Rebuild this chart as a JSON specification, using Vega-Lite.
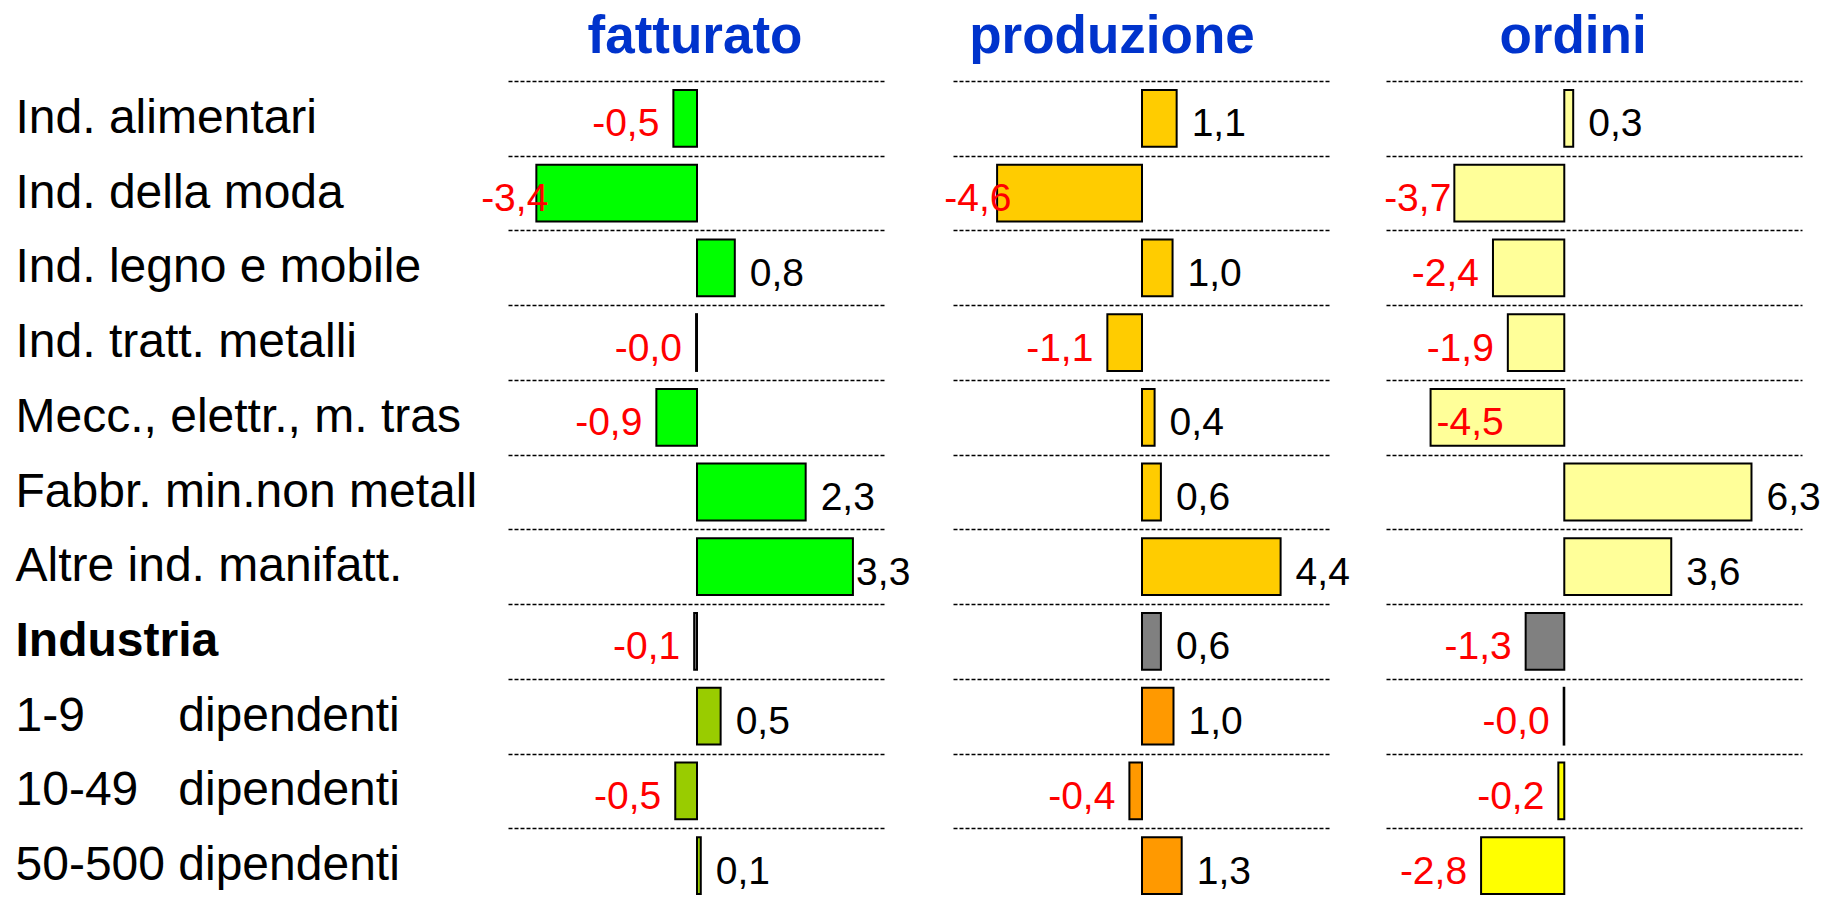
{
  "$schema": "https://vega.github.io/schema/vega-lite/v6.json",
  "padding": {"left": 15, "top": 11, "right": 0, "bottom": 0},
  "background": "white",
  "config": {
    "font": "Liberation Sans",
    "view": {"stroke": null},
    "locale": {"number": {"decimal": ",", "thousands": ".", "grouping": [3], "currency": ["", " €"], "minus": "-"}},
    "style": {"guide-label": {"ellipsis": "\u200b"}},
    "title": {"frame": "group", "baseline": "alphabetic", "offset": 17, "fontSize": 53, "fontWeight": "bold", "color": "#0033CC", "anchor": "middle"}
  },
  "data": {
    "values": [
      {"cat": "Ind. alimentari", "gruppo": "settori", "fatturato": -0.5, "produzione": 1.1, "ordini": 0.3},
      {"cat": "Ind. della moda", "gruppo": "settori", "fatturato": -3.4, "produzione": -4.6, "ordini": -3.7},
      {"cat": "Ind. legno e mobile", "gruppo": "settori", "fatturato": 0.8, "produzione": 0.97, "ordini": -2.4},
      {"cat": "Ind. tratt. metalli", "gruppo": "settori", "fatturato": -0.02, "produzione": -1.1, "ordini": -1.9},
      {"cat": "Mecc., elettr., m. trasp.", "gruppo": "settori", "fatturato": -0.86, "produzione": 0.4, "ordini": -4.5},
      {"cat": "Fabbr. min.non metall.", "gruppo": "settori", "fatturato": 2.3, "produzione": 0.6, "ordini": 6.3},
      {"cat": "Altre ind. manifatt.", "gruppo": "settori", "fatturato": 3.3, "produzione": 4.4, "ordini": 3.6},
      {"cat": "Industria", "gruppo": "totale", "fatturato": -0.06, "produzione": 0.6, "ordini": -1.3},
      {"cat": "1-9\u00a0\u00a0\u00a0\u00a0\u00a0\u00a0\u00a0dipendenti", "gruppo": "dimensione", "fatturato": 0.5, "produzione": 1.0, "ordini": -0.02},
      {"cat": "10-49\u00a0\u00a0\u00a0dipendenti", "gruppo": "dimensione", "fatturato": -0.46, "produzione": -0.4, "ordini": -0.2},
      {"cat": "50-500\u00a0dipendenti", "gruppo": "dimensione", "fatturato": 0.08, "produzione": 1.26, "ordini": -2.8}
    ]
  },
  "bounds": "flush",
  "spacing": 67,
  "resolve": {"scale": {"x": "independent", "color": "independent"}},
  "hconcat": [
    {
      "width": 378,
      "height": 822,
      "title": {"text": "fatturato", "dx": -2},
      "encoding": {
        "y": {
          "field": "cat", "type": "nominal", "sort": null,
          "scale": {"paddingInner": 0, "paddingOuter": 0},
          "axis": {
            "title": null, "domain": false, "ticks": false, "tickSize": 0,
            "labelAlign": "left", "labelBaseline": "middle", "labelPadding": 493,
            "labelFontSize": {"condition": {"test": "datum.label === ''", "value": 0}, "value": 48},
            "labelColor": "black", "labelLimit": 466,
            "labelOverlap": false, "labelBound": false, "labelDy": 1,
            "labelFontWeight": {"condition": {"test": "datum.value === 'Industria'", "value": "bold"}, "value": "normal"},
            "grid": true, "gridColor": "black", "gridDash": [4, 2], "gridWidth": 1.5, "gridOpacity": 1,
            "tickBand": "extent"
          }
        }
      },
      "layer": [
        {
          "mark": {"type": "bar", "height": {"band": 0.76}, "stroke": "black", "strokeWidth": 2},
          "encoding": {
            "x": {"field": "fatturato", "type": "quantitative", "scale": {"domain": [-4, 4], "nice": false}, "axis": null},
            "color": {"field": "gruppo", "type": "nominal", "legend": null,
              "scale": {"domain": ["settori", "totale", "dimensione"], "range": ["#00FF00", "#808080", "#99CC00"]}}
          }
        },
        {
          "transform": [{"filter": "datum.fatturato < 0"}, {"calculate": "max(datum.fatturato, -2.85)", "as": "lx"}],
          "mark": {"type": "text", "fontSize": 39, "align": "right", "baseline": "middle", "dx": -14, "dy": 6, "color": "#FF0000"},
          "encoding": {
            "x": {"field": "lx", "type": "quantitative"},
            "text": {"field": "fatturato", "type": "quantitative", "format": "+.1f"}
          }
        },
        {
          "transform": [{"filter": "datum.fatturato >= 0"}, {"calculate": "min(datum.fatturato, 3.05)", "as": "lx"}],
          "mark": {"type": "text", "fontSize": 39, "align": "left", "baseline": "middle", "dx": 15, "dy": 6, "color": "black"},
          "encoding": {
            "x": {"field": "lx", "type": "quantitative"},
            "text": {"field": "fatturato", "type": "quantitative", "format": ".1f"}
          }
        }
      ]
    },
    {
      "bounds": "flush",
      "spacing": 55,
      "resolve": {"scale": {"x": "independent", "color": "independent"}},
      "hconcat": [
        {
          "width": 378,
          "height": 822,
          "title": {"text": "produzione", "dx": -30},
          "encoding": {
            "y": {
              "field": "cat", "type": "nominal", "sort": null,
              "scale": {"paddingInner": 0, "paddingOuter": 0},
              "axis": {"title": null, "domain": false, "ticks": false, "labels": false,
                "grid": true, "gridColor": "black", "gridDash": [4, 2], "gridWidth": 1.5, "gridOpacity": 1, "tickBand": "extent"}
            }
          },
          "layer": [
            {
              "mark": {"type": "bar", "height": {"band": 0.76}, "stroke": "black", "strokeWidth": 2},
              "encoding": {
                "x": {"field": "produzione", "type": "quantitative", "scale": {"domain": [-6, 6], "nice": false}, "axis": null},
                "color": {"field": "gruppo", "type": "nominal", "legend": null,
                  "scale": {"domain": ["settori", "totale", "dimensione"], "range": ["#FFCC00", "#808080", "#FF9900"]}}
              }
            },
            {
              "transform": [{"filter": "datum.produzione < 0"}, {"calculate": "max(datum.produzione, -3.7)", "as": "lx"}],
              "mark": {"type": "text", "fontSize": 39, "align": "right", "baseline": "middle", "dx": -14, "dy": 6, "color": "#FF0000"},
              "encoding": {
                "x": {"field": "lx", "type": "quantitative"},
                "text": {"field": "produzione", "type": "quantitative", "format": "+.1f"}
              }
            },
            {
              "transform": [{"filter": "datum.produzione >= 0"}],
              "mark": {"type": "text", "fontSize": 39, "align": "left", "baseline": "middle", "dx": 15, "dy": 6, "color": "black"},
              "encoding": {
                "x": {"field": "produzione", "type": "quantitative"},
                "text": {"field": "produzione", "type": "quantitative", "format": ".1f"}
              }
            }
          ]
        },
        {
          "width": 416,
          "height": 822,
          "title": {"text": "ordini", "dx": -21},
          "encoding": {
            "y": {
              "field": "cat", "type": "nominal", "sort": null,
              "scale": {"paddingInner": 0, "paddingOuter": 0},
              "axis": {"title": null, "domain": false, "ticks": false, "labels": false,
                "grid": true, "gridColor": "black", "gridDash": [4, 2], "gridWidth": 1.5, "gridOpacity": 1, "tickBand": "extent"}
            }
          },
          "layer": [
            {
              "mark": {"type": "bar", "height": {"band": 0.76}, "stroke": "black", "strokeWidth": 2},
              "encoding": {
                "x": {"field": "ordini", "type": "quantitative", "scale": {"domain": [-6, 8], "nice": false}, "axis": null},
                "color": {"field": "gruppo", "type": "nominal", "legend": null,
                  "scale": {"domain": ["settori", "totale", "dimensione"], "range": ["#FFFF99", "#808080", "#FFFF00"]}}
              }
            },
            {
              "transform": [{"filter": "datum.ordini < 0 && datum.ordini > -4"}, {"calculate": "max(datum.ordini, -3.33)", "as": "lx"}],
              "mark": {"type": "text", "fontSize": 39, "align": "right", "baseline": "middle", "dx": -14, "dy": 6, "color": "#FF0000"},
              "encoding": {
                "x": {"field": "lx", "type": "quantitative"},
                "text": {"field": "ordini", "type": "quantitative", "format": "+.1f"}
              }
            },
            {
              "transform": [{"filter": "datum.ordini <= -4"}],
              "mark": {"type": "text", "fontSize": 39, "align": "left", "baseline": "middle", "dx": 6, "dy": 6, "color": "#FF0000"},
              "encoding": {
                "x": {"field": "ordini", "type": "quantitative"},
                "text": {"field": "ordini", "type": "quantitative", "format": "+.1f"}
              }
            },
            {
              "transform": [{"filter": "datum.ordini >= 0"}],
              "mark": {"type": "text", "fontSize": 39, "align": "left", "baseline": "middle", "dx": 15, "dy": 6, "color": "black"},
              "encoding": {
                "x": {"field": "ordini", "type": "quantitative"},
                "text": {"field": "ordini", "type": "quantitative", "format": ".1f"}
              }
            }
          ]
        }
      ]
    }
  ]
}
